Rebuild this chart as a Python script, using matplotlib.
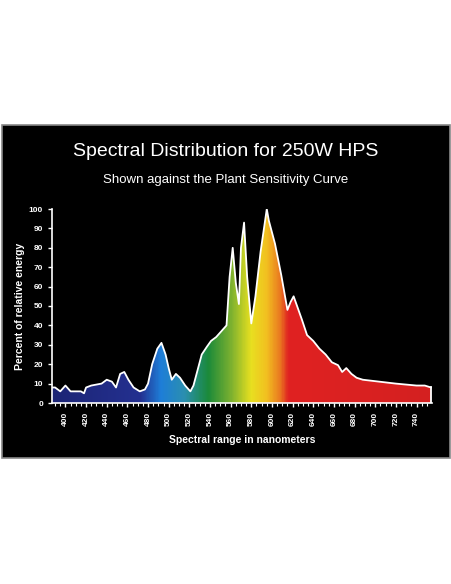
import numpy as np
import matplotlib
matplotlib.use("Agg")
import matplotlib.pyplot as plt
from matplotlib.colors import LinearSegmentedColormap
from matplotlib.patches import Rectangle, Polygon

plt.rcParams['font.family'] = ['Liberation Sans', 'DejaVu Sans']

wl = [387,390,395,400,405,410,415,418,420,425,430,435,440,445,449,453,457,461,466,472,477,480,484,489,493,497,500,503,507,511,516,521,524,528,532,537,541,546,551,556,559,562,565,568,570,573,576,580,584,589,595,597,603,609,615,618,621,625,629,634,640,646,652,658,664,668,672,677,682,688,696,704,712,720,730,740,748,754]
energy = [8,8,6,9,6,6,6,5,8,9,9.5,10,12,11,8,15,16,12,8,6,7,10,20,28,31,25,18,12,15,13,9,6,9,17,25,29,32,34,37,40,65,80,62,51,80,93,65,41,55,78,100,94,82,66,48,52,55,49,43,35,32,28,25,21,19.5,16,18,15,13,12,11.5,11,10.5,10,9.5,9,9,8]

fig = plt.figure(figsize=(4.52, 5.84), dpi=100)
fig.patch.set_facecolor("white")
fig.patches.append(Rectangle((0.004, 1-458/584), 0.992, (458-125)/584, transform=fig.transFigure,
                             facecolor="black", edgecolor="#888888", lw=1.2, zorder=-5))
fig.text(0.5, 1-152/584, "Spectral Distribution for 250W HPS", color="white", ha="center", va="center", fontsize=14)
fig.text(0.5, 1-180/584, "Shown against the Plant Sensitivity Curve", color="white", ha="center", va="center", fontsize=9.5)

ax = fig.add_axes([52/452, 1-403/584, 380/452, 194/584])
ax.set_facecolor("black")
ax.set_xlim(387, 755)
ax.set_ylim(0, 100)

stops = [(387,"#1c2575"),(472,"#243090"),(492,"#1e7ed8"),(515,"#2b8fb0"),(538,"#1b8a3a"),(560,"#7ab030"),(580,"#e8e020"),(595,"#f2c020"),(608,"#ea7a20"),(616,"#e02222"),(755,"#d42020")]
cmap = LinearSegmentedColormap.from_list("sp", [((w-387)/(755-387), c) for w, c in stops])
grad = np.linspace(0, 1, 600).reshape(1, -1)
im = ax.imshow(grad, cmap=cmap, extent=[387, 755, 0, 100], aspect="auto", zorder=1)
poly = Polygon(list(zip([wl[0]] + wl + [wl[-1]], [0] + energy + [0])), closed=True, transform=ax.transData)
im.set_clip_path(poly)
ax.plot(wl, energy, color="white", lw=1.3, zorder=3)
ax.plot([wl[-1], wl[-1]], [energy[-1], 0], color="white", lw=1.3, zorder=3)

for s in ["top", "right"]:
    ax.spines[s].set_visible(False)
for s in ["left", "bottom"]:
    ax.spines[s].set_color("white")
    ax.spines[s].set_linewidth(1.2)
ax.set_xticks(range(400, 741, 20))
ax.set_xticks(range(390, 755, 5), minor=True)
ax.set_yticks(range(0, 101, 10))
ax.tick_params(axis="x", colors="white", labelsize=6, rotation=90, length=3, width=1)
ax.tick_params(axis="x", which="minor", colors="white", length=2, width=0.8)
ax.tick_params(axis="y", colors="white", labelsize=6, length=3, width=1)
for t in ax.get_xticklabels() + ax.get_yticklabels():
    t.set_fontweight("bold")
ax.set_xlabel("Spectral range in nanometers", color="white", fontsize=7.5, labelpad=6, fontweight="bold")
ax.set_ylabel("Percent of relative energy", color="white", fontsize=7.5, labelpad=3, fontweight="bold")
fig.savefig("out.png", dpi=100, facecolor="white")
